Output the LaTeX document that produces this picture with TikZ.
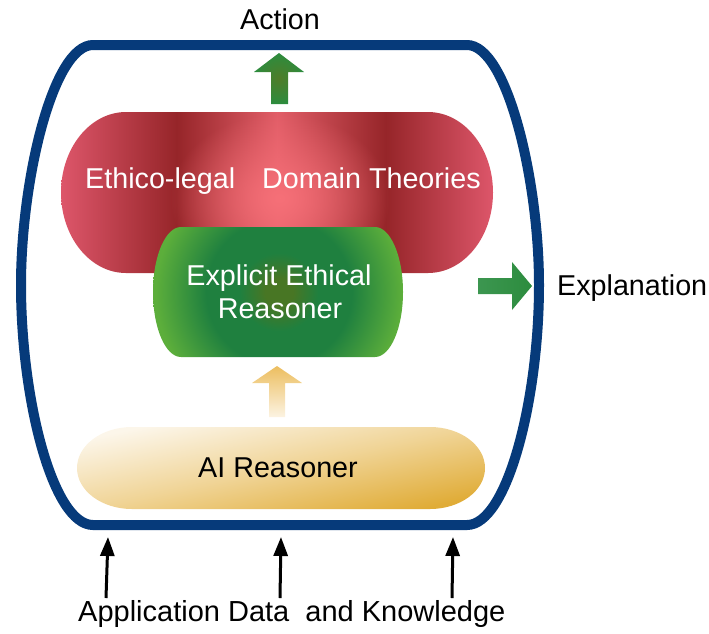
\documentclass[tikz,border=0pt]{standalone}
\usepackage{fontspec}
\setmainfont{Liberation Sans}
\usetikzlibrary{arrows.meta,fadings}

\definecolor{frameblue}{RGB}{6,58,122}
\definecolor{redEdge}{RGB}{221,86,106}
\definecolor{redDark}{RGB}{150,37,41}
\definecolor{redMid}{RGB}{226,94,104}
\definecolor{redGlow}{RGB}{246,112,120}
\definecolor{gEdge}{RGB}{92,174,59}
\definecolor{gRing}{RGB}{31,128,63}
\definecolor{gCenter}{RGB}{72,118,36}
\definecolor{yLight}{RGB}{252,246,234}
\definecolor{yMid}{RGB}{240,212,150}
\definecolor{yDark}{RGB}{224,172,55}
\definecolor{arrGreen}{RGB}{44,140,62}
\definecolor{arrOlive}{RGB}{80,124,40}
\definecolor{arrPale}{RGB}{60,150,80}
\definecolor{yArrTop}{RGB}{236,190,95}
\definecolor{yArrBot}{RGB}{252,243,226}

\pgfdeclarehorizontalshading{redband}{100bp}{color(0bp)=(redEdge); color(25bp)=(redEdge); color(38.4bp)=(redDark); color(50bp)=(redMid); color(62.6bp)=(redDark); color(75bp)=(redEdge); color(100bp)=(redEdge)}
\pgfdeclareradialshading{greenglow}{\pgfpoint{0bp}{0bp}}{color(0bp)=(gCenter); color(2.5bp)=(gCenter); color(7bp)=(gRing); color(13bp)=(gRing); color(22bp)=(gEdge); color(50bp)=(gEdge)}
\pgfdeclareverticalshading{yellowgrad}{100bp}{color(0bp)=(yDark); color(25bp)=(yDark); color(50bp)=(yMid); color(75bp)=(yLight); color(100bp)=(yLight)}
\tikzfading[name=glowfade, inner color=transparent!0, outer color=transparent!100]

\begin{document}
\begin{tikzpicture}[x=1pt,y=-1pt,
  lbl/.style={font=\fontsize{28.7}{33}\selectfont, inner sep=0pt},
  wlbl/.style={lbl, text=white},
  inarrow/.style={line width=3pt, -{Triangle[width=14pt,length=19pt]}},
  frame/.style={draw=frameblue, line width=10pt}
]
\useasboundingbox (0,0) rectangle (709,633);

% outer frame
\path[frame] (93,45) -- (467,45) .. controls (507,45) and (539,180) .. (539,285)
  .. controls (539,400) and (507,525) .. (467,525) -- (93,525)
  .. controls (53,525) and (21,400) .. (21,285)
  .. controls (21,180) and (53,45) .. (93,45) -- cycle;

% red pill
\def\redpath{(126,112) -- (428,112) arc[start angle=-90,end angle=90,x radius=65,y radius=80.5] -- (126,273) arc[start angle=90,end angle=270,x radius=65,y radius=80.5] -- cycle}
\shade[shading=redband] \redpath;
\begin{scope}
  \clip \redpath;
  \fill[redGlow, path fading=glowfade] (280,198) ellipse [x radius=110, y radius=85];
\end{scope}

% green pill
\begin{scope}
  \clip (181,227) -- (375,227) arc[start angle=-90,end angle=90,x radius=28,y radius=65] -- (181,357) arc[start angle=90,end angle=270,x radius=28,y radius=65] -- cycle;
  \shade[shading=greenglow] (279,292) circle (140);
\end{scope}

% yellow pill
\shade[shading=yellowgrad, shading angle=12] (132,427) -- (430,427) arc[start angle=-90,end angle=90,x radius=55,y radius=41] -- (132,509) arc[start angle=90,end angle=270,x radius=55,y radius=41] -- cycle;

% block arrows
\shade[inner color=arrOlive, outer color=arrGreen] (271,104) -- (271,72) -- (254,72) -- (279,53) -- (304,72) -- (288,72) -- (288,104) -- cycle;
\shade[left color=arrPale, middle color=arrOlive, right color=arrGreen] (478,278) -- (512,278) -- (512,262) -- (532,286) -- (512,310) -- (512,294) -- (478,294) -- cycle;
\shade[top color=yArrTop, bottom color=yArrBot] (269,417) -- (269,383) -- (252,383) -- (277,366) -- (302,383) -- (285,383) -- (285,417) -- cycle;

% texts
\node[wlbl, anchor=base west] (ethico) at (85,188) {Ethico-legal};
\node[wlbl, anchor=base west] (domain) at (262,188) {Domain Theories};
\node[wlbl, anchor=base] (eer1) at (279,285) {Explicit Ethical};
\node[wlbl, anchor=base] (eer2) at (280,318) {Reasoner};
\node[lbl, anchor=base] (ai) at (278,477) {AI Reasoner};
\node[lbl, anchor=base] (action) at (280,29) {Action};
\node[lbl, anchor=base west] (expl) at (557,295) {Explanation};
\node[lbl, anchor=base west, font=\fontsize{29}{33}\selectfont] (appdata) at (78,621) {Application Data\ \ and Knowledge};

% input arrows
\coordinate (b1) at (106,598); \coordinate (t1) at (108,537);
\coordinate (b2) at (280,598); \coordinate (t2) at (281,537);
\coordinate (b3) at (452,598); \coordinate (t3) at (453,537);
\draw[inarrow] (b1) -- (t1);
\draw[inarrow] (b2) -- (t2);
\draw[inarrow] (b3) -- (t3);
\end{tikzpicture}
\end{document}
